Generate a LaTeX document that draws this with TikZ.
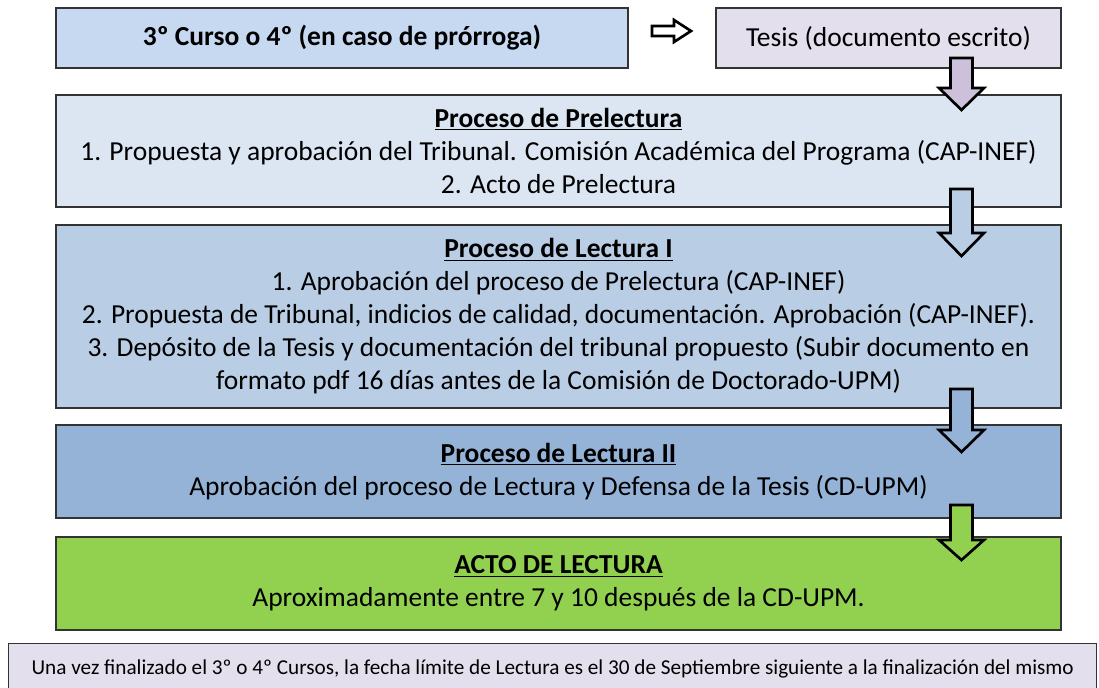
\documentclass[tikz,border=0pt]{standalone}
\usepackage{fontspec}
\setmainfont{Carlito}
\definecolor{cursoblue}{HTML}{C6D9F1}
\definecolor{tesislila}{HTML}{E4DFEC}
\definecolor{tesisarrow}{HTML}{CCC0DA}
\definecolor{preblue}{HTML}{DCE6F2}
\definecolor{lecblue}{HTML}{B9CDE5}
\definecolor{lecdark}{HTML}{95B3D7}
\definecolor{actogreen}{HTML}{92D050}
\tikzset{
  box/.style={draw=black!80, line width=1pt, inner sep=0pt, align=center,
    font=\fontsize{20.6}{24.75}\selectfont},
  bigarrow/.style={draw=black, line width=2pt, line join=miter},
}
\begin{document}
\begin{tikzpicture}[x=0.75pt, y=-0.75pt]
    \clip (0,0) rectangle (1099,688);
    \fill[white] (0,0) rectangle (1099,688);

    \node[box, fill=cursoblue, minimum width=429pt, minimum height=45pt] (curso)
    at (342,38) {\textbf{3º Curso o 4º (en caso de prórroga)}};
    \node[box, fill=tesislila, minimum width=258.75pt, minimum height=45pt] (tesis)
    at (888.5,38) {Tesis (documento escrito)};

    \node[box, fill=preblue, minimum width=753.75pt, minimum height=84pt] (prelectura)
    at (558.5,151) {\underline{\textbf{Proceso de Prelectura}}\\
    1. Propuesta y aprobación del Tribunal. Comisión Académica del Programa (CAP-INEF)\\
    2. Acto de Prelectura};

    \node[box, fill=lecblue, minimum width=753.75pt, minimum height=137.25pt] (lecturaI)
    at (558.5,316.5) {\underline{\textbf{Proceso de Lectura I}}\\
    1. Aprobación del proceso de Prelectura (CAP-INEF)\\
    2. Propuesta de Tribunal, indicios de calidad, documentación. Aprobación (CAP-INEF).\\
    3. Depósito de la Tesis y documentación del tribunal propuesto (Subir documento en\\
    formato pdf 16 días antes de la Comisión de Doctorado-UPM)};

    \node[box, fill=lecdark, minimum width=753.75pt, minimum height=69.75pt] (lecturaII)
    at (558.5,471.5) {\underline{\textbf{Proceso de Lectura II}}\\
    Aprobación del proceso de Lectura y Defensa de la Tesis (CD-UPM)};

    \node[box, fill=actogreen, minimum width=753.75pt, minimum height=69.75pt] (acto)
    at (558.5,583.5) {\underline{\textbf{ACTO DE LECTURA}}\\
    Aproximadamente entre 7 y 10 después de la CD-UPM.};

    \node[box, fill=tesislila, minimum width=816pt, minimum height=40pt,
    anchor=north west, font=\fontsize{15.9}{18}\selectfont] (limite)
    at (8,643) {\raisebox{5pt}{Una vez finalizado el 3º o 4º Cursos, la fecha límite de Lectura es el 30 de Septiembre siguiente a la finalización del mismo}};

    % hollow arrow between the top boxes
    \draw[bigarrow, fill=white] (652,26) -- (674,26) -- (674,20) -- (691,31)
    -- (674,42) -- (674,36) -- (652,36) -- cycle;

    % block arrows down the right side
    \foreach \ytop/\ybase/\ytip/\col in {58/88/110/tesisarrow, 189/233/256/lecblue,
      389/430/452/lecdark, 505/540/560/actogreen}
      \draw[bigarrow, fill=\col] (950.5,\ytop) -- (972.5,\ytop) -- (972.5,\ybase)
      -- (984,\ybase) -- (961.5,\ytip) -- (939,\ybase) -- (950.5,\ybase) -- cycle;
\end{tikzpicture}
\end{document}
